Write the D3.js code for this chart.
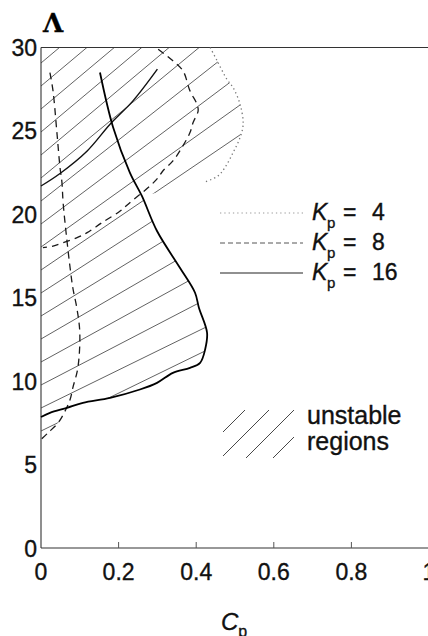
<!DOCTYPE html>
<html>
<head>
<meta charset="utf-8">
<script src="https://cdn.jsdelivr.net/npm/d3@7"></script>
<style>
  body { margin: 0; background: #fff; }
  svg { display: block; font-family: 'Liberation Sans', Arial, sans-serif; }
  text { stroke: #111; stroke-width: 0.35px; }
</style>
</head>
<body>
<svg id="chart"></svg>
<script>
// Kp = 16, main branch (solid)
const cp16 = [0.152, 0.186, 0.229, 0.260, 0.299, 0.358, 0.397, 0.407, 0.428, 0.423, 0.410, 0.384, 0.340, 0.299, 0.255, 0.178, 0.108, 0.067, 0.023, 0];
const lam16 = [28.5, 25.2, 22.5, 21.1, 19.0, 16.8, 15.3, 14.4, 12.9, 11.9, 11.1, 10.8, 10.5, 9.9, 9.5, 9.0, 8.7, 8.4, 8.1, 7.85];
// Kp = 16, upper thin branch
const cp16b = [0, 0.049, 0.119, 0.178, 0.237, 0.300];
const lam16b = [21.7, 22.45, 23.8, 25.4, 26.8, 28.7];
// Kp = 8, loop from the top (dashed)
const cp8a = [0.302, 0.340, 0.366, 0.384, 0.402, 0.405, 0.392, 0.384, 0.363, 0.340, 0.314, 0.302, 0.281, 0.229, 0.204, 0.157, 0.119, 0.093, 0.057, 0.031, 0.005];
const lam8a = [29.9, 29.2, 28.6, 27.4, 26.6, 26.2, 25.5, 24.9, 24.0, 23.2, 22.6, 22.2, 21.7, 20.7, 20.2, 19.5, 18.9, 18.6, 18.3, 18.1, 18.0];
// Kp = 8, near-vertical branch (dashed)
const cp8b = [0.023, 0.031, 0.041, 0.049, 0.054, 0.057, 0.067, 0.075, 0.082, 0.093, 0.100, 0.095, 0.082, 0.075, 0.064, 0.044, 0.018, 0];
const lam8b = [28.5, 27.4, 24.9, 22.8, 21.9, 20.7, 18.4, 16.8, 15.6, 14.3, 12.9, 10.8, 9.6, 8.9, 8.3, 7.5, 6.9, 6.5];
// Kp = 4 (dotted)
const cp4 = [0.436, 0.454, 0.479, 0.495, 0.513, 0.521, 0.513, 0.495, 0.474, 0.456, 0.418];
const lam4 = [30, 29.2, 28.1, 27.6, 26.6, 25.4, 24.6, 23.7, 22.8, 22.3, 21.9];

const xTicks = [0, 0.2, 0.4, 0.6, 0.8, 1];
const xTickLabels = ['0', '0.2', '0.4', '0.6', '0.8', '1'];
const yTicks = [0, 5, 10, 15, 20, 25, 30];
const legendKp = ['4', '8', '16'];

const svgWidth = 428;
const svgHeight = 636;

const svg = d3.select('#chart')
  .attr('width', svgWidth)
  .attr('height', svgHeight);

const xScale = d3.scaleLinear().domain([0, 1]).range([41, 429]);
const yScale = d3.scaleLinear().domain([0, 30]).range([548, 47.5]);

const zip = (xs, ys) => xs.map((x, i) => [x, ys[i]]);
const line = d3.line()
  .x(d => xScale(d[0]))
  .y(d => yScale(d[1]))
  .curve(d3.curveCatmullRom.alpha(0.5));

// unstable region outline, built from the curves above
const region = [[0, 30]]
  .concat(zip(cp4, lam4))
  .concat(zip(cp16, lam16).filter(d => d[1] <= 21.2 && d[1] >= 8.4))
  .concat(zip(cp8b, lam8b).filter(d => d[1] < 8.4));

svg.append('clipPath')
  .attr('id', 'unstable')
  .append('path')
  .attr('d', d3.line().x(d => xScale(d[0])).y(d => yScale(d[1])).curve(d3.curveLinearClosed)(region));

// hatching
const hatch = svg.append('g').attr('clip-path', 'url(#unstable)');
d3.range(-420, 470, 23).forEach(y0 => {
  let ang = y0 >= 410 ? 26 : (y0 <= 170 ? 40 : 40 - (y0 - 170) * 14 / 240);
  const t = Math.tan(ang * Math.PI / 180);
  hatch.append('line')
    .attr('x1', 41).attr('y1', y0)
    .attr('x2', 641).attr('y2', y0 - 600 * t)
    .attr('stroke', '#3a3a3a')
    .attr('stroke-width', 0.8);
});

// axes frame
const frame = svg.append('g').attr('stroke', '#333').attr('stroke-width', 1.1).attr('fill', 'none');
frame.append('line').attr('x1', xScale(0)).attr('x2', svgWidth).attr('y1', yScale(30)).attr('y2', yScale(30));
frame.append('line').attr('x1', xScale(0)).attr('x2', svgWidth).attr('y1', yScale(0)).attr('y2', yScale(0));
frame.append('line').attr('x1', xScale(0)).attr('x2', xScale(0)).attr('y1', yScale(0)).attr('y2', yScale(30));

svg.append('g')
  .selectAll('line')
  .data(xTicks.slice(1, -1))
  .enter().append('line')
  .attr('x1', d => xScale(d)).attr('x2', d => xScale(d))
  .attr('y1', yScale(0)).attr('y2', yScale(0) - 6)
  .attr('stroke', '#555').attr('stroke-width', 1);

// tick labels
svg.append('g')
  .selectAll('text')
  .data(xTicks)
  .enter().append('text')
  .attr('x', d => xScale(d))
  .attr('y', 580)
  .attr('text-anchor', 'middle')
  .attr('font-size', 23)
  .attr('fill', '#111')
  .text((d, i) => xTickLabels[i]);

svg.append('g')
  .selectAll('text')
  .data(yTicks)
  .enter().append('text')
  .attr('x', 37)
  .attr('y', d => yScale(d) + 8.5)
  .attr('text-anchor', 'end')
  .attr('font-size', 23)
  .attr('fill', '#111')
  .text(d => d);

// curves
svg.append('path')
  .attr('d', line(zip(cp4, lam4)))
  .attr('fill', 'none').attr('stroke', '#777').attr('stroke-width', 1.3)
  .attr('stroke-dasharray', '1.3,3');

[zip(cp8a, lam8a), zip(cp8b, lam8b)].forEach(pts => {
  svg.append('path')
    .attr('d', line(pts))
    .attr('fill', 'none').attr('stroke', '#1a1a1a').attr('stroke-width', 1.3)
    .attr('stroke-dasharray', '7,5');
});

svg.append('path')
  .attr('d', line(zip(cp16b, lam16b)))
  .attr('fill', 'none').attr('stroke', '#111').attr('stroke-width', 1.4);

svg.append('path')
  .attr('d', line(zip(cp16, lam16)))
  .attr('fill', 'none').attr('stroke', '#000').attr('stroke-width', 1.8);

// legend
const legendY = [220, 250, 280];
const legendStyle = [
  { stroke: '#999', dash: '1.3,3', w: 1.1 },
  { stroke: '#555', dash: '5,3', w: 1 },
  { stroke: '#222', dash: null, w: 1.2 }
];
legendKp.forEach((k, i) => {
  const y = legendY[i];
  svg.append('line')
    .attr('x1', 220).attr('x2', 303)
    .attr('y1', y - 7).attr('y2', y - 7)
    .attr('stroke', legendStyle[i].stroke)
    .attr('stroke-width', legendStyle[i].w)
    .attr('stroke-dasharray', legendStyle[i].dash);
  svg.append('text')
    .attr('x', 312).attr('y', y)
    .attr('font-size', 23).attr('font-style', 'italic').attr('fill', '#111')
    .text('K');
  svg.append('text')
    .attr('x', 327).attr('y', y + 8)
    .attr('font-size', 15).attr('fill', '#111')
    .text('p');
  svg.append('text')
    .attr('x', 343).attr('y', y)
    .attr('font-size', 23).attr('fill', '#111')
    .text('=');
  svg.append('text')
    .attr('x', 372).attr('y', y)
    .attr('font-size', 23).attr('fill', '#111')
    .text(k);
});

// unstable regions key
svg.append('clipPath').attr('id', 'keybox')
  .append('rect').attr('x', 223).attr('y', 410).attr('width', 71).attr('height', 48);
const key = svg.append('g').attr('clip-path', 'url(#keybox)');
[655, 679, 704, 731].forEach(c => {
  key.append('line')
    .attr('x1', 200).attr('y1', c - 200)
    .attr('x2', 320).attr('y2', c - 320)
    .attr('stroke', '#333').attr('stroke-width', 0.9);
});
svg.append('text').attr('x', 307).attr('y', 424)
  .attr('font-size', 25).attr('fill', '#111').text('unstable');
svg.append('text').attr('x', 307).attr('y', 450)
  .attr('font-size', 25).attr('fill', '#111').text('regions');

// axis titles
svg.append('text')
  .attr('x', 53).attr('y', 32)
  .attr('text-anchor', 'middle')
  .attr('font-family', 'DejaVu Serif')
  .attr('font-weight', 'bold')
  .attr('font-size', 26)
  .text('\u039B');

const cp = svg.append('text').attr('x', 221).attr('y', 630).attr('font-size', 24).attr('fill', '#111');
cp.append('tspan').attr('font-style', 'italic').text('C');
cp.append('tspan').attr('font-size', 16).attr('dy', 7).text('p');
</script>
</body>
</html>
